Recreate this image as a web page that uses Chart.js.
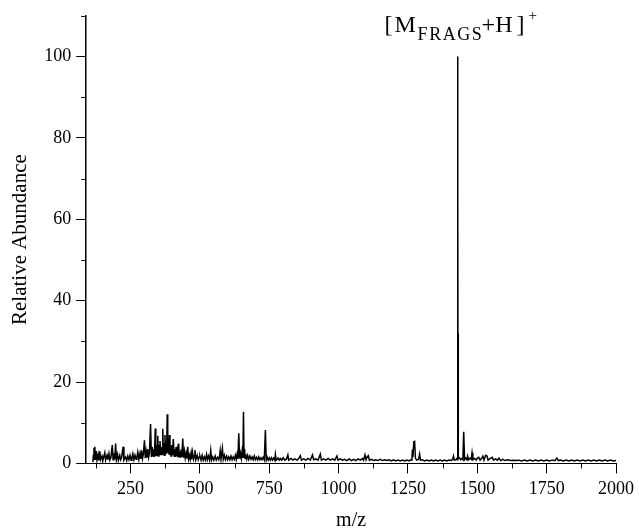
<!DOCTYPE html>
<html>

<head>
    <meta charset="utf-8" />
    <style>
        body { margin: 0; background: #fff; }
        #wrap { position: relative; width: 639px; height: 529px; }
    </style>
</head>

<body>
    <div id="wrap"><canvas id="msChart"></canvas></div>

    <script src="https://cdn.jsdelivr.net/npm/chart.js@4.4.1/dist/chart.umd.min.js"></script>

    <script>
        // m/z values of the trace
        const mz = [
            114, 116, 118, 119, 121, 123, 126, 129, 133, 136,
            139, 142, 147, 150, 153, 157, 160, 165, 168, 172,
            175, 179, 184, 187, 190, 193, 196, 199, 203, 206,
            211, 214, 218, 223, 226, 229, 232, 236, 240, 244,
            248, 252, 255, 258, 262, 266, 270, 273, 276, 280,
            284, 287, 290, 293, 296, 300, 303, 306, 309, 312,
            315, 318, 322, 325, 328, 331, 333, 336, 339, 341,
            344, 346, 348, 350, 352, 354, 356, 359, 362, 364,
            366, 368, 370, 372, 374, 376, 378, 380, 382, 384,
            386, 388, 390, 392, 394, 396, 398, 401, 404, 407,
            410, 412, 414, 416, 418, 420, 423, 426, 428, 430,
            433, 435, 438, 441, 444, 447, 450, 453, 456, 459,
            462, 465, 468, 470, 473, 477, 480, 482, 485, 490,
            494, 497, 500, 504, 508, 512, 516, 520, 524, 527,
            531, 535, 539, 542, 546, 550, 555, 559, 564, 568,
            571, 573, 576, 581, 584, 588, 592, 596, 600, 604,
            608, 612, 616, 620, 624, 628, 631, 634, 637, 640,
            643, 646, 649, 652, 655, 657, 659, 661, 663, 666,
            669, 672, 676, 680, 684, 688, 692, 696, 700, 704,
            708, 712, 716, 720, 724, 728, 732, 736, 739, 742,
            746, 750, 754, 758, 762, 766, 770, 772, 775, 782,
            786, 790, 795, 800, 806, 812, 817, 820, 828, 835,
            842, 850, 856, 862, 866, 874, 882, 890, 898, 906,
            910, 918, 926, 934, 938, 946, 954, 962, 970, 978,
            986, 994, 998, 1006, 1014, 1022, 1030, 1038, 1046, 1054,
            1062, 1070, 1078, 1086, 1090, 1095, 1099, 1103, 1107, 1111,
            1118, 1126, 1134, 1142, 1150, 1158, 1166, 1174, 1182, 1190,
            1198, 1206, 1214, 1222, 1230, 1238, 1246, 1254, 1260, 1264,
            1266, 1268, 1271, 1274, 1277, 1282, 1288, 1292, 1295, 1302,
            1310, 1318, 1326, 1334, 1342, 1350, 1358, 1366, 1374, 1382,
            1390, 1398, 1406, 1411, 1414, 1417, 1422, 1426, 1428, 1429,
            1429.5, 1430, 1430.5, 1431, 1432, 1436, 1440, 1444, 1448, 1451,
            1454, 1458, 1462, 1465, 1468, 1474, 1478, 1481, 1484, 1490,
            1496, 1500, 1505, 1510, 1515, 1520, 1524, 1530, 1535, 1539,
            1546, 1554, 1558, 1566, 1572, 1578, 1584, 1592, 1600, 1610,
            1620, 1630, 1640, 1650, 1660, 1670, 1680, 1690, 1700, 1710,
            1720, 1730, 1740, 1750, 1760, 1770, 1780, 1787, 1792, 1800,
            1810, 1820, 1830, 1840, 1850, 1860, 1870, 1880, 1890, 1900,
            1910, 1920, 1930, 1940, 1950, 1960, 1970, 1980, 1990, 2000
        ];

        // relative abundance (%) at each m/z above
        const abundance = [
            0.3, 2.0, 3.8, 1.0, 4.1, 0.9, 3.0, 0.8, 2.2, 0.7,
            3.0, 0.9, 1.8, 0.7, 1.5, 2.6, 0.8, 2.0, 0.9, 2.4,
            0.8, 1.4, 4.5, 0.9, 2.5, 1.0, 4.9, 0.9, 2.2, 0.8,
            2.0, 0.9, 1.5, 4.1, 0.8, 1.2, 1.6, 0.7, 1.8, 0.9,
            2.0, 0.8, 1.5, 2.4, 0.9, 2.0, 1.0, 1.6, 2.8, 1.0,
            2.5, 1.1, 3.2, 1.2, 2.2, 5.7, 1.3, 3.0, 1.4, 3.5,
            1.5, 2.6, 9.7, 1.6, 4.0, 1.8, 3.5, 1.6, 8.6, 1.8,
            4.5, 2.0, 6.8, 1.8, 4.5, 2.2, 5.5, 2.0, 4.0, 2.2,
            8.5, 2.4, 5.0, 2.0, 7.0, 2.2, 4.5, 2.4, 12.1, 2.6,
            5.5, 2.2, 7.0, 2.0, 4.0, 1.8, 4.5, 2.0, 6.0, 1.8,
            3.5, 1.6, 4.0, 1.8, 3.0, 1.5, 4.9, 1.6, 3.0, 1.4,
            3.5, 1.5, 6.1, 1.4, 3.0, 1.3, 2.5, 1.2, 4.1, 1.1,
            2.0, 1.0, 2.5, 1.0, 2.8, 1.0, 1.8, 3.3, 0.9, 2.0,
            0.9, 1.5, 1.8, 0.8, 2.0, 0.8, 1.6, 0.8, 2.2, 0.9,
            1.8, 0.8, 3.2, 0.9, 1.6, 0.8, 1.8, 0.8, 1.5, 0.9,
            1.8, 3.1, 1.0, 3.7, 1.0, 2.0, 0.9, 1.8, 0.9, 1.6,
            0.9, 1.8, 0.9, 1.6, 1.0, 2.0, 1.0, 2.2, 1.1, 7.4,
            1.2, 2.5, 1.2, 3.0, 1.3, 12.7, 1.5, 3.5, 1.2, 2.2,
            1.1, 2.0, 1.0, 1.8, 1.0, 1.6, 0.9, 1.8, 0.9, 1.5,
            0.9, 1.6, 0.9, 1.4, 0.9, 1.5, 0.9, 8.2, 0.9, 1.6,
            0.8, 1.4, 0.8, 1.4, 0.8, 1.3, 0.8, 2.2, 0.8, 1.3,
            0.8, 1.2, 0.8, 1.4, 0.8, 1.1, 2.1, 0.8, 1.2, 0.8,
            1.1, 0.8, 1.2, 1.9, 0.8, 1.1, 0.8, 1.2, 0.8, 2.1,
            0.9, 1.1, 0.8, 2.3, 0.8, 1.1, 0.8, 1.2, 0.8, 1.1,
            0.8, 1.8, 0.8, 1.1, 0.8, 1.0, 0.7, 1.1, 0.7, 1.0,
            0.7, 1.1, 0.8, 1.2, 0.8, 2.1, 0.9, 1.6, 1.9, 0.8,
            1.0, 0.7, 0.9, 0.7, 1.0, 0.7, 0.9, 0.7, 0.9, 0.6,
            0.9, 0.6, 0.8, 0.6, 0.8, 0.6, 0.8, 0.6, 0.9, 0.8,
            3.4, 1.5, 5.3, 5.4, 1.2, 0.8, 1.0, 2.3, 0.8, 0.9,
            0.6, 0.8, 0.6, 0.8, 0.6, 0.8, 0.6, 0.8, 0.6, 0.8,
            0.6, 0.8, 0.7, 1.0, 1.8, 0.8, 0.9, 1.2, 0.9, 100,
            6, 67, 5, 32, 1.2, 1.4, 0.9, 1.2, 0.9, 7.8,
            0.9, 1.3, 0.9, 1.8, 0.9, 1.3, 1.0, 2.6, 0.9, 1.2,
            0.8, 1.3, 1.5, 0.8, 1.2, 1.8, 0.8, 2.0, 1.8, 0.8,
            1.2, 1.5, 0.8, 1.1, 0.8, 1.3, 0.7, 1.0, 0.7, 0.9,
            0.7, 0.8, 0.7, 0.8, 0.6, 0.8, 0.6, 0.8, 0.6, 0.8,
            0.6, 0.8, 0.6, 0.8, 0.6, 0.8, 0.7, 1.3, 0.7, 0.8,
            0.6, 0.8, 0.6, 0.8, 0.6, 0.8, 0.6, 0.8, 0.6, 0.8,
            0.6, 0.8, 0.6, 0.8, 0.6, 0.8, 0.6, 0.8, 0.6, 0.7
        ];

        const xRange = [90, 2000];
        const yRange = [0, 110];
        const xStep = 125, xMajor = 250;
        const yStep = 10, yMajor = 20;
        const peakMz = 1429;

        const serif = "'Liberation Serif', 'DejaVu Serif', serif";

        // short minor ticks between the labelled ones
        const minorTicks = {
            id: 'minorTicks',
            afterDraw(chart) {
                const ctx = chart.ctx;
                const xs = chart.scales.x, ys = chart.scales.y;
                ctx.save();
                ctx.strokeStyle = '#000';
                ctx.lineWidth = 1;
                xs.ticks.forEach(t => {
                    if (t.value % xMajor === 0) return;
                    const px = Math.round(xs.getPixelForValue(t.value)) + 0.5;
                    ctx.beginPath();
                    ctx.moveTo(px, xs.top);
                    ctx.lineTo(px, xs.top + 5);
                    ctx.stroke();
                });
                ys.ticks.forEach(t => {
                    if (t.value % yMajor === 0) return;
                    const py = Math.round(ys.getPixelForValue(t.value)) + 0.5;
                    ctx.beginPath();
                    ctx.moveTo(ys.right - 5, py);
                    ctx.lineTo(ys.right, py);
                    ctx.stroke();
                });
                ctx.restore();
            }
        };

        // [M_FRAGS+H]+ label above the main peak
        const peakLabel = {
            id: 'peakLabel',
            afterDraw(chart) {
                const ctx = chart.ctx;
                const x0 = chart.scales.x.getPixelForValue(peakMz) - 73;
                const base = 32;
                ctx.save();
                ctx.fillStyle = '#000';
                ctx.textBaseline = 'alphabetic';
                ctx.textAlign = 'left';
                ctx.font = '24px ' + serif;
                ctx.fillText('[', x0, base);
                ctx.fillText('M', x0 + 10, base);
                ctx.fillText('+H', x0 + 97, base);
                ctx.fillText(']', x0 + 132, base);
                ctx.font = '18px ' + serif;
                ctx.letterSpacing = '1.5px';
                ctx.fillText('FRAGS', x0 + 33, base + 8);
                ctx.letterSpacing = '0px';
                ctx.font = '15px ' + serif;
                ctx.fillText('+', x0 + 144, base - 12);
                ctx.restore();
            }
        };

        const points = mz.map((m, i) => ({ x: m, y: abundance[i] }));

        let msChart = new Chart(document.getElementById('msChart'), {
            type: 'scatter',
            data: {
                datasets: [{
                    data: points,
                    showLine: true,
                    borderColor: '#000',
                    borderWidth: 1.5,
                    pointRadius: 0,
                    tension: 0
                }]
            },
            options: {
                responsive: true,
                maintainAspectRatio: false,
                animation: false,
                layout: { padding: { top: 4, right: 4, left: 4, bottom: 0 } },
                plugins: {
                    legend: { display: false },
                    tooltip: { enabled: false }
                },
                scales: {
                    x: {
                        type: 'linear',
                        min: xRange[0],
                        max: xRange[1],
                        ticks: {
                            stepSize: xStep,
                            includeBounds: false,
                            autoSkip: false,
                            maxRotation: 0,
                            padding: 5,
                            color: '#000',
                            font: { family: serif, size: 18 },
                            callback: v => v % xMajor === 0 ? v : ''
                        },
                        grid: {
                            drawOnChartArea: false,
                            tickLength: 10,
                            tickWidth: 1,
                            tickColor: c => (c.tick && c.tick.value % xMajor === 0) ? '#000' : 'rgba(0,0,0,0)'
                        },
                        border: { color: '#000', width: 1 },
                        title: {
                            display: true,
                            text: 'm/z',
                            color: '#000',
                            font: { family: serif, size: 20 },
                            padding: { top: 4, bottom: -4 }
                        }
                    },
                    y: {
                        min: yRange[0],
                        max: yRange[1],
                        ticks: {
                            stepSize: yStep,
                            autoSkip: false,
                            padding: 5,
                            color: '#000',
                            font: { family: serif, size: 18 },
                            callback: v => v % yMajor === 0 ? v : ''
                        },
                        grid: {
                            drawOnChartArea: false,
                            tickLength: 10,
                            tickWidth: 1,
                            tickColor: c => (c.tick && c.tick.value % yMajor === 0) ? '#000' : 'rgba(0,0,0,0)'
                        },
                        border: { color: '#000', width: 1.5 },
                        title: {
                            display: true,
                            text: 'Relative Abundance',
                            color: '#000',
                            font: { family: serif, size: 21 },
                            padding: { top: 4, bottom: 6 }
                        }
                    }
                }
            },
            plugins: [minorTicks, peakLabel]
        });
    </script>
</body>

</html>
